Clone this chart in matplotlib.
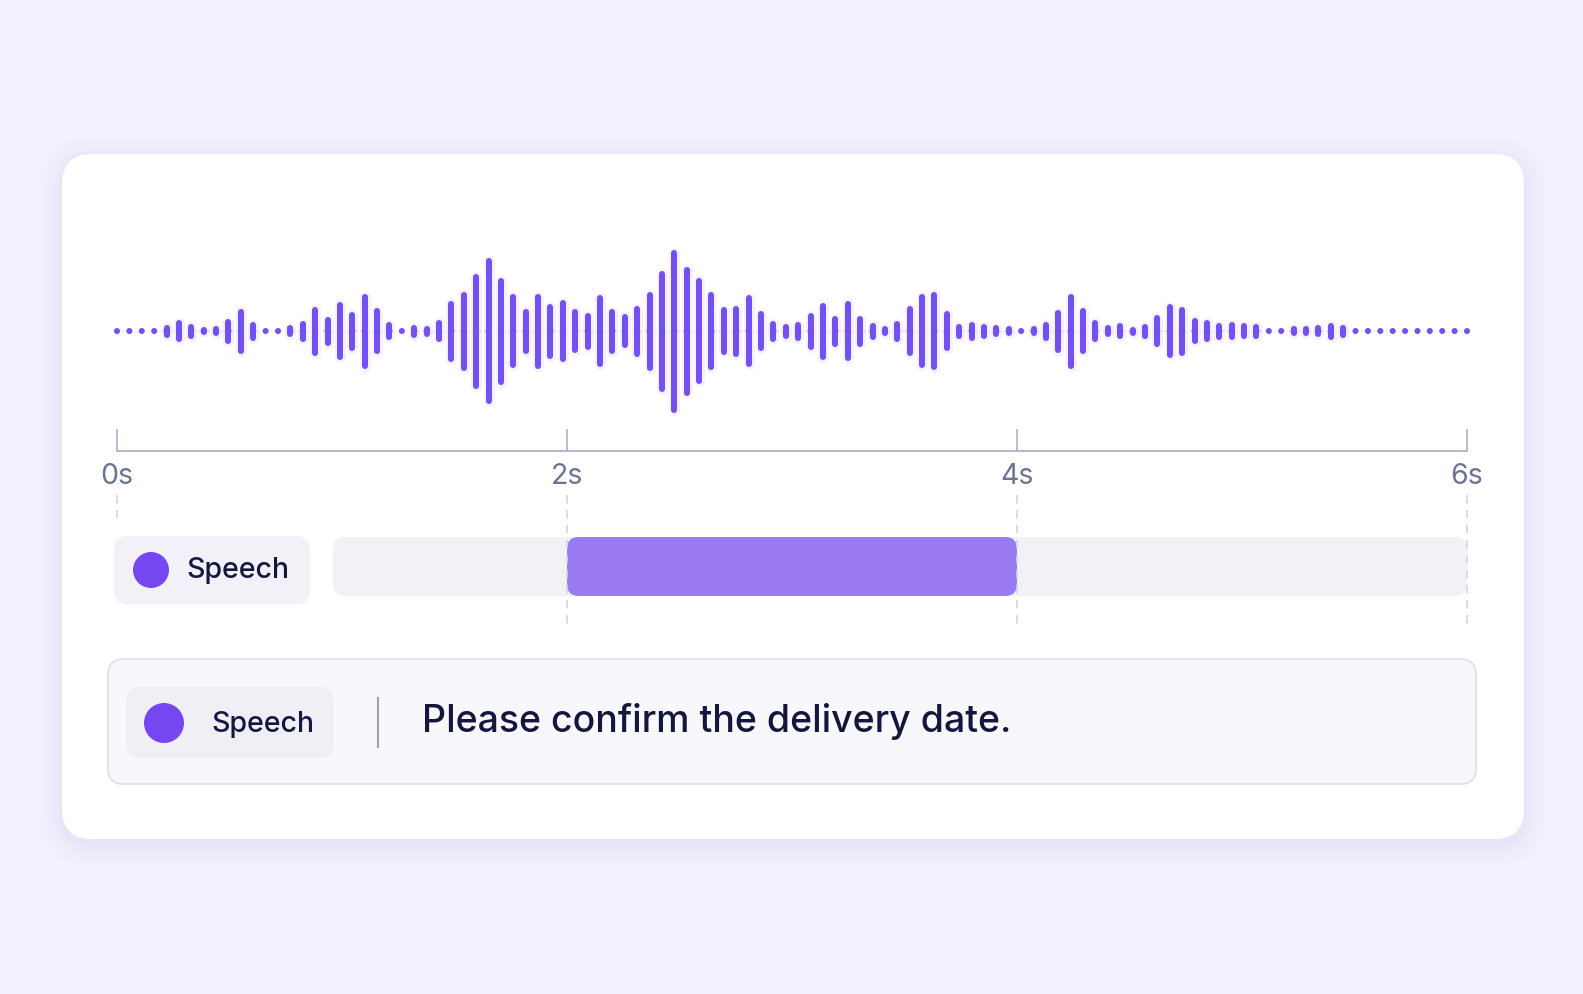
import matplotlib.pyplot as plt
import numpy as np
from matplotlib.collections import LineCollection
from matplotlib.patches import FancyBboxPatch, Circle

plt.rcParams['font.family'] = ['Inter', 'DejaVu Sans']

# data
duration = 6.0
amplitude = [5, 5, 5, 5, 13, 22, 15, 8, 10, 25, 45, 19, 5, 5, 12, 21, 49, 29, 58, 39,
             75, 46, 18, 6, 13, 11, 22, 61, 79, 115, 146, 107, 74, 45, 75, 55, 62, 44, 37, 72,
             45, 34, 51, 79, 121, 163, 129, 106, 78, 48, 51, 72, 40, 21, 15, 19, 37, 57, 31, 60,
             31, 17, 10, 21, 50, 74, 78, 40, 15, 19, 15, 12, 10, 6, 10, 19, 43, 75, 46, 22,
             12, 16, 9, 15, 32, 54, 49, 26, 22, 17, 18, 16, 15, 6, 6, 10, 10, 12, 17, 13,
             6, 6, 6, 6, 6, 6, 6, 6, 6, 6]
tick_times = [0, 2, 4, 6]
tick_labels = ["0s", "2s", "4s", "6s"]
segment_label = "Speech"
segment_start = 2.0
segment_end = 4.0
transcript = "Please confirm the delivery date."

W, H = 1583, 994
BG = "#F3F1FD"
PURPLE = "#7350EF"
DOT = "#7447F0"
SEG = "#9A7BF2"
INK = "#15173F"
AXIS = "#A7AEC2"
LABEL = "#6B7590"

fig = plt.figure(figsize=(W / 100, H / 100), dpi=100, facecolor=BG)

# background layer in pixel coords
bg = fig.add_axes([0, 0, 1, 1])
bg.set_xlim(0, W)
bg.set_ylim(H, 0)
bg.axis("off")
bg.set_facecolor(BG)


def rbox(ax, x0, y0, x1, y1, r, **kw):
    p = FancyBboxPatch((x0, y0), x1 - x0, y1 - y0,
                       boxstyle=f"round,pad=0,rounding_size={r}", **kw)
    ax.add_patch(p)
    return p


# card with soft shadow
for i, a in enumerate([0.03, 0.025, 0.02, 0.015, 0.01]):
    g = 3 + i * 5
    rbox(bg, 62 - g, 154 - g + 5, 1524 + g, 839 + g + 5, 30 + g,
         facecolor="#9C8FE0", edgecolor="none", alpha=a)
rbox(bg, 62, 154, 1524, 839, 30, facecolor="white", edgecolor="none")

# legend pill of the speech row
rbox(bg, 114, 536, 310, 604, 14, facecolor="#F1F1F7", edgecolor="none")
bg.add_patch(Circle((151, 570), 18, facecolor=DOT, edgecolor="none"))
bg.text(186, 571, segment_label, fontsize=20.5, fontweight="medium",
        color=INK, va="center", ha="left")

# transcript box
rbox(bg, 108, 659, 1476, 784, 16, facecolor="#F8F8FC", edgecolor="#E3E3EE", lw=1.5)
rbox(bg, 126, 687, 334, 758, 14, facecolor="#EFEFF5", edgecolor="none")
bg.add_patch(Circle((164, 723), 20, facecolor=DOT, edgecolor="none"))
bg.text(211, 724, segment_label, fontsize=20.5, fontweight="medium",
        color=INK, va="center", ha="left")
bg.plot([378, 378], [697, 748], color="#A0A2AE", lw=1.5, solid_capstyle="butt")
bg.text(422, 722, transcript, fontsize=27, fontweight="medium",
        color="#14163C", va="center", ha="left")

# waveform + time axis
x0, x1 = 117, 1467
wave = fig.add_axes([x0 / W, 1 - 451 / H, (x1 - x0) / W, 240 / H])
wave.set_xlim(0, duration)
wave.set_ylim(-120, 120)
wave.patch.set_alpha(0)
for s in ["top", "left", "right"]:
    wave.spines[s].set_visible(False)
wave.spines["bottom"].set_color(AXIS)
wave.spines["bottom"].set_linewidth(1.2)
wave.set_yticks([])
wave.set_xticks(tick_times)
wave.set_xticklabels(tick_labels)
wave.tick_params(axis="x", direction="in", length=16, width=1.1, color=AXIS,
                 labelsize=20.5, labelcolor=LABEL, pad=9)

bar_w = 6.0
t = np.linspace(0, duration, len(amplitude))
half = np.maximum(np.array(amplitude) - bar_w, 0) / 2
segs = [[(ti, -hi), (ti, hi)] for ti, hi in zip(t, half)]
wave.axhline(0, color=PURPLE, lw=1, alpha=0.07)
wave.add_collection(LineCollection(segs, colors=PURPLE, linewidths=(bar_w + 5) * 0.72,
                                   capstyle="round", alpha=0.08, clip_on=False))
wave.add_collection(LineCollection(segs, colors=PURPLE, linewidths=bar_w * 0.72,
                                   capstyle="round", clip_on=False))
# round dot at each bar centre so the quiet bars still show
wave.scatter(t, np.zeros_like(t), s=(bar_w * 0.72) ** 2, color=PURPLE,
             edgecolors="none", clip_on=False, zorder=3)

# speech row: guides, track, segment (y in pixels)
row = fig.add_axes([x0 / W, 1 - 627 / H, (x1 - x0) / W, 132 / H])
row.set_xlim(0, duration)
row.set_ylim(627, 495)
row.axis("off")
row.patch.set_alpha(0)
guide_end = [524 if tt == 0 else 627 for tt in tick_times]
row.vlines(tick_times, 495, guide_end, colors="#D3D6DF", lw=1.2,
           linestyles=(0, (5, 4)), clip_on=False)

px_per_s = (x1 - x0) / duration
track_start = (333 - x0) / px_per_s
r = 12 / px_per_s
for a, b, c in [(track_start, duration, "#F1F1F6"), (segment_start, segment_end, SEG)]:
    row.add_patch(FancyBboxPatch((a, 537), b - a, 59,
                                 boxstyle=f"round,pad=0,rounding_size={r}",
                                 mutation_aspect=px_per_s, facecolor=c,
                                 edgecolor="none", clip_on=False))

fig.savefig("out.png", dpi=100, facecolor=BG)
